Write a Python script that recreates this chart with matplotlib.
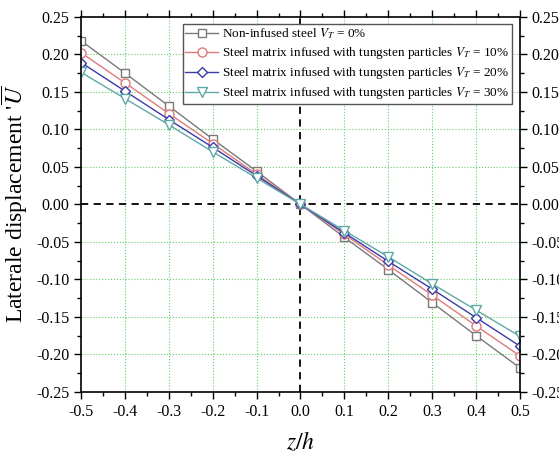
import numpy as np
import matplotlib.pyplot as plt
from matplotlib.ticker import MultipleLocator

plt.rcParams['font.family'] = 'Liberation Serif'
plt.rcParams['mathtext.fontset'] = 'stix'

# donnees
z = [-0.5, -0.4, -0.3, -0.2, -0.1, 0.0, 0.1, 0.2, 0.3, 0.4, 0.5]
u0 = [0.218, 0.175, 0.131, 0.087, 0.044, 0.0, -0.044, -0.087, -0.131, -0.175, -0.218]
u10 = [0.202, 0.162, 0.121, 0.081, 0.040, 0.0, -0.040, -0.081, -0.121, -0.162, -0.202]
u20 = [0.189, 0.151, 0.113, 0.076, 0.038, 0.0, -0.038, -0.076, -0.113, -0.151, -0.189]
u30 = [0.176, 0.141, 0.106, 0.070, 0.035, 0.0, -0.035, -0.070, -0.106, -0.141, -0.176]

xlabels = ['-0.5', '-0.4', '-0.3', '-0.2', '-0.1', '0.0', '0.1', '0.2', '0.3', '0.4', '0.5']
yvals = [-0.25, -0.2, -0.15, -0.1, -0.05, 0.0, 0.05, 0.1, 0.15, 0.2, 0.25]
ylabels = ['-0.25', '-0.20', '-0.15', '-0.10', '-0.05', '0.00', '0.05', '0.10', '0.15', '0.20', '0.25']

labels = ["Non-infused steel $V_T$ = 0%",
          "Steel matrix infused with tungsten particles $V_T$ = 10%",
          "Steel matrix infused with tungsten particles $V_T$ = 20%",
          "Steel matrix infused with tungsten particles $V_T$ = 30%"]

fig = plt.figure(figsize=(5.59, 4.54), dpi=100)
ax = fig.add_axes([0.145, 0.137, 0.785, 0.826])

# grille verte pointillee
for x in [-0.4, -0.3, -0.2, -0.1, 0.1, 0.2, 0.3, 0.4]:
    ax.axvline(x, color='#66cc66', ls=':', lw=0.8, zorder=0)
for y in [0.2, 0.15, 0.1, 0.05, -0.05, -0.1, -0.15, -0.2]:
    ax.axhline(y, color='#66cc66', ls=':', lw=0.8, zorder=0)
ax.axhline(0, color='k', ls=(0, (4, 3)), lw=1.3, zorder=1)
ax.axvline(0, color='k', ls=(0, (4, 3)), lw=1.3, zorder=1)

ax.plot(z, u0, color='#7a7a7a', marker='s', mfc='white', ms=6, lw=1, label=labels[0])
ax.plot(z, u10, color='#e07a7a', marker='o', mfc='white', ms=6.5, lw=1, label=labels[1])
ax.plot(z, u20, color='#3a3aa8', marker='D', mfc='white', ms=5.5, lw=1, label=labels[2])
ax.plot(z, u30, color='#5fa8a8', marker='v', mfc='white', ms=7, lw=1, label=labels[3])

ax.set_xlim(-0.5, 0.5)
ax.set_ylim(-0.25, 0.25)
ax.set_xticks(z)
ax.set_xticklabels(xlabels)
ax.set_yticks(yvals)
ax.set_yticklabels(ylabels)
ax.xaxis.set_minor_locator(MultipleLocator(0.05))
ax.yaxis.set_minor_locator(MultipleLocator(0.025))
ax.tick_params(which='both', top=True, right=True, labelright=True, labelsize=11.5)
ax.tick_params(which='major', length=5, width=1)
ax.tick_params(which='minor', length=3, width=1)
for s in ax.spines.values():
    s.set_linewidth(1.2)

ax.set_xlabel('$z/h$', fontsize=17, labelpad=8)
ax.set_ylabel("Laterale displacement '$\\overline{U}$", fontsize=17)

ax.legend(loc='upper right', fontsize=9.5, fancybox=False, edgecolor='#555555',
          framealpha=1, handlelength=2.5, borderpad=0.2, labelspacing=0.3,
          handletextpad=0.3, borderaxespad=0, bbox_to_anchor=(0.982, 0.981))

plt.savefig('out.png', dpi=100)
